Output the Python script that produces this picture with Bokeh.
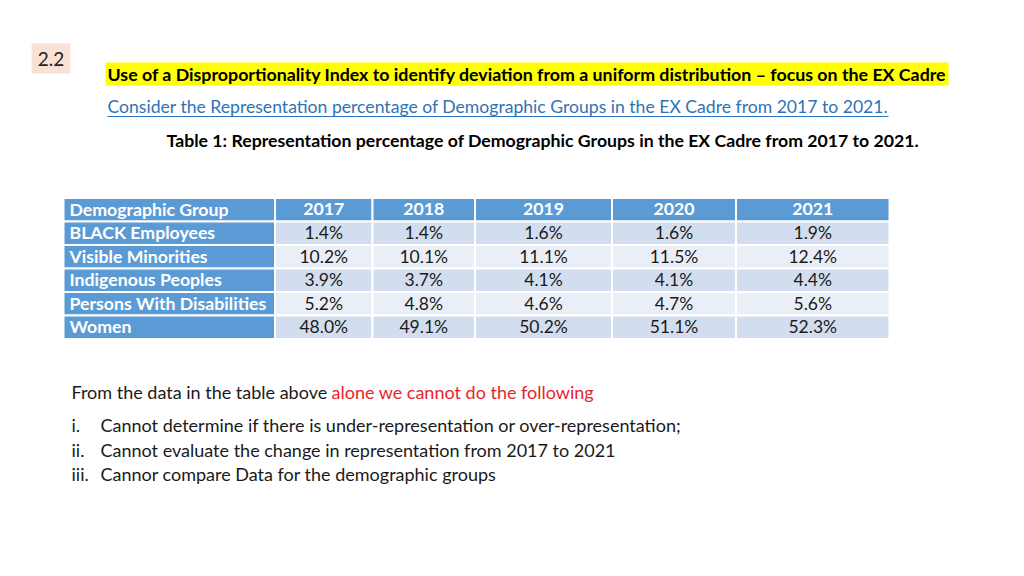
from bokeh.plotting import figure
from bokeh.models import Range1d
from bokeh.core.properties import value
from bokeh.embed import file_html
from bokeh.resources import INLINE

# ---- data ----
section = "2.2"
title = "Use of a Disproportionality Index to identify deviation from a uniform distribution \u2013 focus on the EX Cadre"
subtitle = "Consider the Representation percentage of Demographic Groups in the EX Cadre from 2017 to 2021."
caption = "Table 1: Representation percentage of Demographic Groups in the EX Cadre from 2017 to 2021."
header_label = "Demographic Group"
years = ["2017", "2018", "2019", "2020", "2021"]
groups = ["BLACK Employees", "Visible Minorities", "Indigenous Peoples",
          "Persons With Disabilities", "Women"]
black_employees = [1.4, 1.4, 1.6, 1.6, 1.9]
visible_minorities = [10.2, 10.1, 11.1, 11.5, 12.4]
indigenous_peoples = [3.9, 3.7, 4.1, 4.1, 4.4]
persons_with_disabilities = [5.2, 4.8, 4.6, 4.7, 5.6]
women = [48.0, 49.1, 50.2, 51.1, 52.3]
values_by_group = [black_employees, visible_minorities, indigenous_peoples,
                   persons_with_disabilities, women]
intro_black = "From the data in the table above "
intro_red = "alone we cannot do the following"
list_marks = ["i.", "ii.", "iii."]
list_items = ["Cannot determine if there is under-representation or over-representation;",
              "Cannot evaluate the change in representation from 2017 to 2021",
              "Cannor compare Data for the demographic groups"]

# ---- layout / style ----
FONT = "Lato"
W, H = 1008, 560
p = figure(width=W, height=H, x_range=Range1d(0, W), y_range=Range1d(H, 0),
           output_backend="svg", toolbar_location=None, min_border=0)
p.axis.visible = False
p.grid.visible = False
p.outline_line_color = None
p.background_fill_color = "white"
p.border_fill_color = "white"

# section box
p.quad(left=[31], right=[70], top=[43], bottom=[73], fill_color="#F9E1D5", line_color=None)
p.text(x=[50.5], y=[58], text=[section], text_font=value(FONT), text_font_size="19px",
       text_color="#222222", text_align="center", text_baseline="middle")

# highlighted title
p.quad(left=[105], right=[948], top=[62], bottom=[85], fill_color="#FFFF00", line_color=None)
p.text(x=[107], y=[73], text=[title], text_font=value(FONT), text_font_size="17.8px",
       text_font_style="bold", text_color="black", text_align="left", text_baseline="middle")

# subtitle (hyperlink style)
link = "#2E74B5"
p.text(x=[107], y=[105.5], text=[subtitle], text_font=value(FONT), text_font_size="17.6px",
       text_color=link, text_align="left", text_baseline="middle")
p.segment(x0=[107], y0=[116], x1=[888], y1=[116], line_color=link, line_width=1)

# caption
p.text(x=[166], y=[139.5], text=[caption], text_font=value(FONT), text_font_size="17.7px",
       text_font_style="bold", text_color="black", text_align="left", text_baseline="middle")

# table
col_edges = [63, 274.5, 372, 474.5, 611.5, 735.5, 889]
row_top = 197.5
row_h = 23.5
blue = "#5B9BD5"
band_dark = "#D2DEEF"
band_light = "#EAEFF7"
dy = -0.5

# header row
hx_l, hx_r, hy_t, hy_b = [], [], [], []
for c in range(len(col_edges) - 1):
    hx_l.append(col_edges[c]); hx_r.append(col_edges[c + 1])
    hy_t.append(row_top); hy_b.append(row_top + row_h)
# first column rows
for r in range(len(groups)):
    hx_l.append(col_edges[0]); hx_r.append(col_edges[1])
    hy_t.append(row_top + (r + 1) * row_h); hy_b.append(row_top + (r + 2) * row_h)
p.quad(left=hx_l, right=hx_r, top=hy_t, bottom=hy_b, fill_color=blue,
       line_color="white", line_width=2)

# data cells
dl, dr, dt, db, dc, tx, ty, tt = [], [], [], [], [], [], [], []
for r, vals in enumerate(values_by_group):
    for c, v in enumerate(vals):
        l, rr = col_edges[c + 1], col_edges[c + 2]
        t = row_top + (r + 1) * row_h
        dl.append(l); dr.append(rr); dt.append(t); db.append(t + row_h)
        dc.append(band_dark if r % 2 == 0 else band_light)
        tx.append((l + rr) / 2); ty.append(t + row_h / 2 + dy)
        tt.append(f"{v:.1f}%")
p.quad(left=dl, right=dr, top=dt, bottom=db, fill_color=dc, line_color="white", line_width=2)
p.text(x=tx, y=ty, text=tt, text_font=value(FONT), text_font_size="17.5px",
       text_color="#1a1a1a", text_align="center", text_baseline="middle")

# header texts
p.text(x=[69], y=[row_top + row_h / 2 + dy], text=[header_label], text_font=value(FONT),
       text_font_size="17.7px", text_font_style="bold", text_color="white",
       text_align="left", text_baseline="middle")
p.text(x=[(col_edges[i] + col_edges[i + 1]) / 2 for i in range(1, len(col_edges) - 1)],
       y=[row_top + row_h / 2 + dy] * len(years), text=years, text_font=value(FONT),
       text_font_size="17.7px", text_font_style="bold", text_color="white",
       text_align="center", text_baseline="middle")
p.text(x=[69] * len(groups), y=[row_top + (r + 1.5) * row_h + dy for r in range(len(groups))],
       text=groups, text_font=value(FONT), text_font_size="17.7px", text_font_style="bold",
       text_color="white", text_align="left", text_baseline="middle")

# bottom notes
p.text(x=[71], y=[391.5], text=[intro_black], text_font=value(FONT), text_font_size="18px",
       text_color="#1a1a1a", text_align="left", text_baseline="middle")
p.text(x=[331], y=[391.5], text=[intro_red], text_font=value(FONT), text_font_size="18px",
       text_color="#E8242A", text_align="left", text_baseline="middle")
p.text(x=[71] * 3, y=[424.5, 449, 473.5], text=list_marks, text_font=value(FONT),
       text_font_size="18px", text_color="#1a1a1a", text_align="left", text_baseline="middle")
p.text(x=[100] * 3, y=[424.5, 449, 473.5], text=list_items, text_font=value(FONT),
       text_font_size="18px", text_color="#1a1a1a", text_align="left", text_baseline="middle")

open("out.html", "w").write(file_html(p, INLINE))
